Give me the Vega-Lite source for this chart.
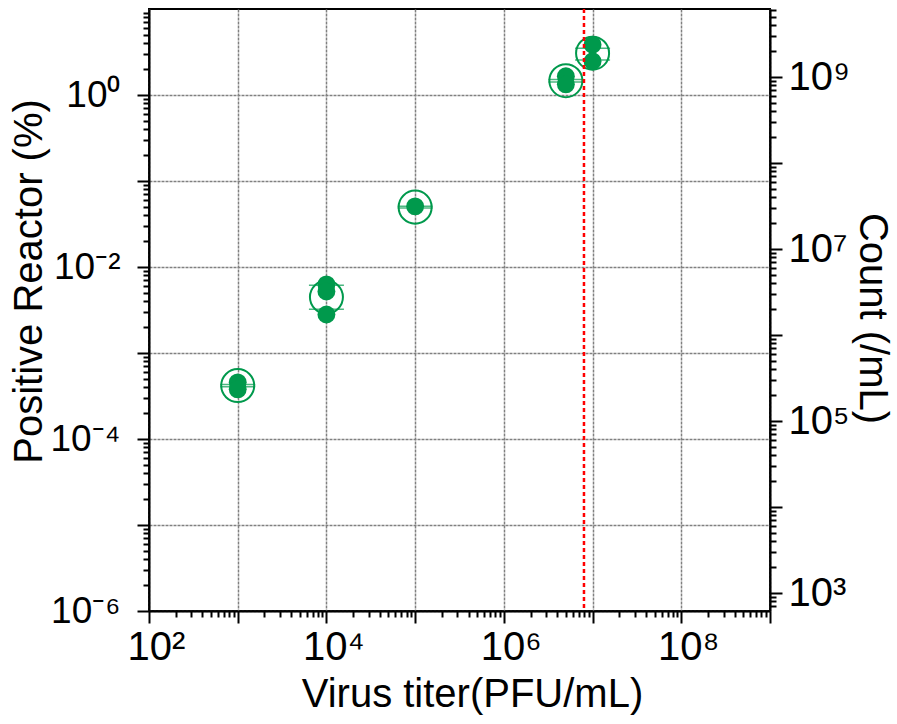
{
  "$schema": "https://vega.github.io/schema/vega-lite/v6.json",
  "width": 621,
  "height": 602,
  "autosize": {"type": "none"},
  "padding": {"left": 149, "top": 9, "right": 127, "bottom": 113},
  "background": "white",
  "datasets": {
    "pct": [
      {"titer": 1000, "pct": 0.000456},
      {"titer": 1000, "pct": 0.000378},
      {"titer": 10000, "pct": 0.00627},
      {"titer": 10000, "pct": 0.00519},
      {"titer": 10000, "pct": 0.0028},
      {"titer": 100000, "pct": 0.0507},
      {"titer": 5000000, "pct": 1.65},
      {"titer": 5000000, "pct": 1.33},
      {"titer": 10000000, "pct": 3.85},
      {"titer": 10000000, "pct": 2.47}
    ],
    "count": [
      {"titer": 1000, "count": 259000, "lo": 252000, "hi": 266000},
      {"titer": 10000, "count": 2770000, "lo": 2000000, "hi": 3810000},
      {"titer": 100000, "count": 30800000, "lo": 30000000, "hi": 31600000},
      {"titer": 5000000, "count": 910000000, "lo": 880000000, "hi": 940000000},
      {"titer": 10000000, "count": 1900000000, "lo": 1580000000, "hi": 2170000000}
    ],
    "threshold": [{"titer": 8000000}]
  },
  "layer": [
    {
      "data": {"name": "count"},
      "layer": [
        {
          "mark": {"type": "point", "filled": false, "size": 1090, "strokeWidth": 2, "color": "#00994c", "opacity": 1},
          "encoding": {
            "x": {"field": "titer", "type": "quantitative", "scale": {"type": "log", "domain": [100, 1000000000], "nice": false}, "axis": null},
            "y": {"field": "count", "type": "quantitative", "scale": {"type": "log", "domain": [620, 6200000000], "nice": false},
              "axis": {
                "orient": "right",
                "values": [1000, 10000, 100000, 1000000, 10000000, 100000000, 1000000000],
                "grid": false,
                "tickSize": 12,
                "labelPadding": 6,
                "labelExpr": "datum.value==1000?'10³':datum.value==100000?'10⁵':datum.value==10000000?'10⁷':datum.value==1000000000?'10⁹':''",
                "labelOverlap": false,
                "labelFlush": false,
                "title": "Count (/mL)",
                "titleAngle": 90,
                "titleBaseline": "alphabetic",
                "titleX": 89,
                "titleY": 309
              }
            }
          }
        },
        {
          "mark": {"type": "tick", "orient": "horizontal", "size": 35, "thickness": 1.5, "color": "#00994c"},
          "encoding": {
            "x": {"field": "titer", "type": "quantitative", "scale": {"type": "log", "domain": [100, 1000000000], "nice": false}, "axis": null},
            "y": {"field": "lo", "type": "quantitative", "scale": {"type": "log", "domain": [620, 6200000000], "nice": false}, "axis": null}
          }
        },
        {
          "mark": {"type": "tick", "orient": "horizontal", "size": 35, "thickness": 1.5, "color": "#00994c"},
          "encoding": {
            "x": {"field": "titer", "type": "quantitative", "scale": {"type": "log", "domain": [100, 1000000000], "nice": false}, "axis": null},
            "y": {"field": "hi", "type": "quantitative", "scale": {"type": "log", "domain": [620, 6200000000], "nice": false},
              "axis": {
                "orient": "right",
                "values": [700, 800, 900,
                  2000, 3000, 4000, 5000, 6000, 7000, 8000, 9000,
                  20000, 30000, 40000, 50000, 60000, 70000, 80000, 90000,
                  200000, 300000, 400000, 500000, 600000, 700000, 800000, 900000,
                  2000000, 3000000, 4000000, 5000000, 6000000, 7000000, 8000000, 9000000,
                  20000000, 30000000, 40000000, 50000000, 60000000, 70000000, 80000000, 90000000,
                  200000000, 300000000, 400000000, 500000000, 600000000, 700000000, 800000000, 900000000,
                  2000000000, 3000000000, 4000000000, 5000000000, 6000000000],
                "labels": false,
                "grid": false,
                "domain": false,
                "tickSize": 6,
                "title": null
              }
            }
          }
        }
      ],
      "resolve": {"axis": {"y": "independent"}}
    },
    {
      "data": {"name": "pct"},
      "layer": [
        {
          "mark": {"type": "point", "filled": true, "size": 320, "color": "#00994c", "opacity": 1},
          "encoding": {
            "x": {"field": "titer", "type": "quantitative", "scale": {"type": "log", "domain": [100, 1000000000], "nice": false},
              "axis": {
                "orient": "bottom",
                "values": [100, 1000, 10000, 100000, 1000000, 10000000, 100000000, 1000000000],
                "grid": true,
                "tickSize": 12,
                "labelPadding": 4,
                "labelOffset": 7,
                "labelExpr": "datum.value==100?'10²':datum.value==10000?'10⁴':datum.value==1000000?'10⁶':datum.value==100000000?'10⁸':''",
                "labelOverlap": false,
                "labelFlush": false,
                "title": "Virus titer(PFU/mL)",
                "titleBaseline": "alphabetic",
                "titleX": 323,
                "titleY": 95
              }
            },
            "y": {"field": "pct", "type": "quantitative", "scale": {"type": "log", "domain": [0.000001, 10], "nice": false},
              "axis": {
                "orient": "left",
                "values": [0.000001, 0.00001, 0.0001, 0.001, 0.01, 0.1, 1],
                "grid": true,
                "tickSize": 12,
                "labelPadding": 17,
                "labelFontSize": 37,
                "labelExpr": "datum.value==1?'10⁰':datum.value==0.01?'10⁻²':datum.value==0.0001?'10⁻⁴':datum.value==0.000001?'10⁻⁶':''",
                "labelOverlap": false,
                "labelFlush": false,
                "title": "Positive Reactor (%)",
                "titleAngle": -90,
                "titleBaseline": "alphabetic",
                "titleX": -108,
                "titleY": 272
              }
            }
          }
        },
        {
          "mark": {"type": "point", "filled": true, "size": 240, "opacity": 0},
          "encoding": {
            "x": {"field": "titer", "type": "quantitative", "scale": {"type": "log", "domain": [100, 1000000000], "nice": false},
              "axis": {
                "orient": "bottom",
                "values": [200, 300, 400, 500, 600, 700, 800, 900,
                  2000, 3000, 4000, 5000, 6000, 7000, 8000, 9000,
                  20000, 30000, 40000, 50000, 60000, 70000, 80000, 90000,
                  200000, 300000, 400000, 500000, 600000, 700000, 800000, 900000,
                  2000000, 3000000, 4000000, 5000000, 6000000, 7000000, 8000000, 9000000,
                  20000000, 30000000, 40000000, 50000000, 60000000, 70000000, 80000000, 90000000,
                  200000000, 300000000, 400000000, 500000000, 600000000, 700000000, 800000000, 900000000],
                "labels": false,
                "grid": false,
                "domain": false,
                "tickSize": 6,
                "title": null
              }
            },
            "y": {"field": "pct", "type": "quantitative", "scale": {"type": "log", "domain": [0.000001, 10], "nice": false},
              "axis": {
                "orient": "left",
                "values": [0.000002, 0.000003, 0.000004, 0.000005, 0.000006, 0.000007, 0.000008, 0.000009,
                  0.00002, 0.00003, 0.00004, 0.00005, 0.00006, 0.00007, 0.00008, 0.00009,
                  0.0002, 0.0003, 0.0004, 0.0005, 0.0006, 0.0007, 0.0008, 0.0009,
                  0.002, 0.003, 0.004, 0.005, 0.006, 0.007, 0.008, 0.009,
                  0.02, 0.03, 0.04, 0.05, 0.06, 0.07, 0.08, 0.09,
                  0.2, 0.3, 0.4, 0.5, 0.6, 0.7, 0.8, 0.9,
                  2, 3, 4, 5, 6, 7, 8, 9],
                "labels": false,
                "grid": false,
                "domain": false,
                "tickSize": 6,
                "title": null
              }
            }
          }
        }
      ],
      "resolve": {"axis": {"x": "independent", "y": "independent"}}
    },
    {
      "data": {"name": "threshold"},
      "mark": {"type": "rule", "color": "#ff0000", "strokeDash": [4, 3], "strokeWidth": 2.5},
      "encoding": {
        "x": {"field": "titer", "type": "quantitative", "scale": {"type": "log", "domain": [100, 1000000000], "nice": false}, "axis": null}
      }
    }
  ],
  "resolve": {"scale": {"y": "independent"}, "axis": {"x": "independent", "y": "independent"}},
  "config": {
    "view": {"stroke": "black", "strokeWidth": 2},
    "axis": {
      "domainColor": "black",
      "domainWidth": 2,
      "tickColor": "black",
      "tickWidth": 2,
      "labelFont": "Liberation Sans",
      "labelFontSize": 40,
      "labelColor": "black",
      "titleFont": "Liberation Sans",
      "titleFontSize": 40,
      "titleFontWeight": "normal",
      "titleColor": "black",
      "gridColor": "#808080",
      "gridDash": [3, 1],
      "gridWidth": 1.5,
      "gridOpacity": 1
    }
  }
}
